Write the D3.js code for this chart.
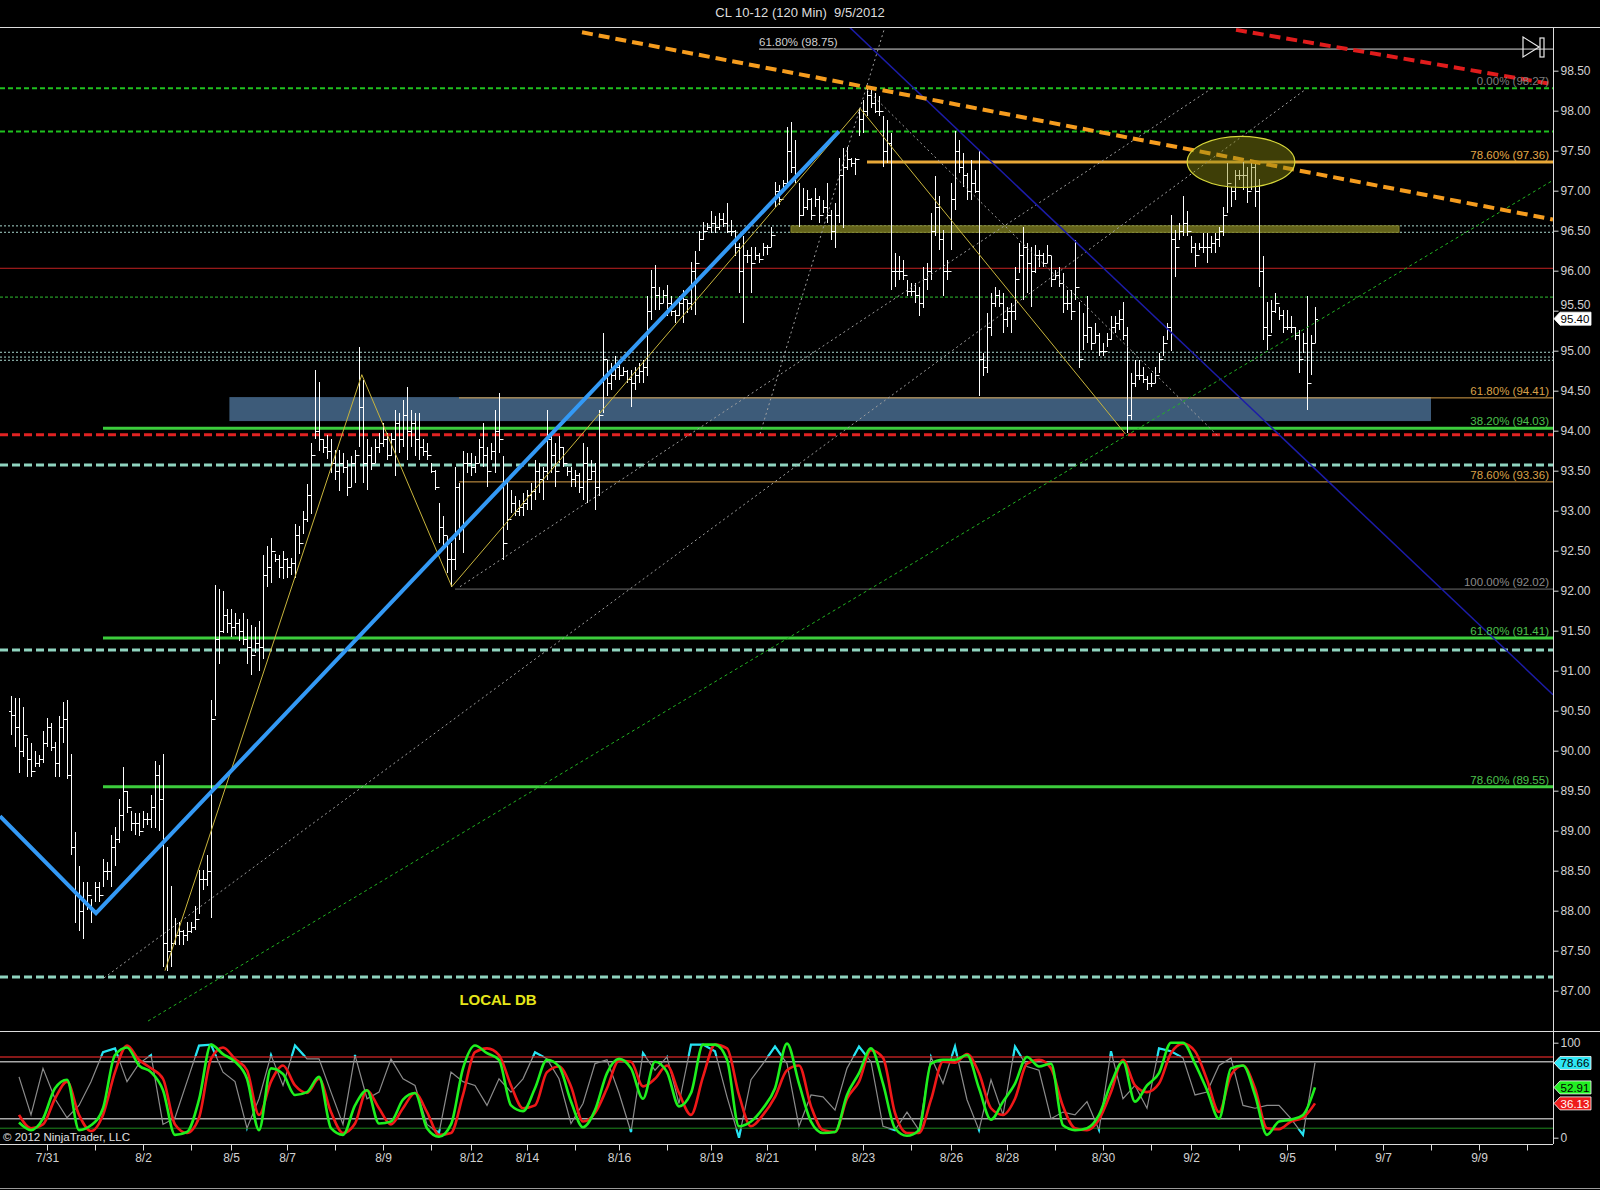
<!DOCTYPE html>
<html>
<head>
<meta charset="utf-8">
<title>CL 10-12 (120 Min) 9/5/2012</title>
<style>
body { margin: 0; background: #000; }
svg { display: block; font-family: "Liberation Sans", Arial, sans-serif; }
</style>
</head>
<body>
<svg id="chart" width="1600" height="1190"></svg>
<script src="https://d3js.org/d3.v7.min.js"></script>
<script>
// 120 min bars, index 0 = first bar on screen (7/30 evening)
var barHigh = [
  90.68, 90.66, 90.66, 90.55, 90.16, 90.10, 89.99, 89.95, 90.24, 90.41,
  90.34, 90.11, 90.43, 90.61, 90.63, 89.96, 88.98, 88.56, 88.36, 88.36,
  88.14, 88.36, 88.36, 88.65, 88.61, 88.95, 89.05, 89.40, 89.79, 89.50,
  89.25, 89.22, 89.22, 89.25, 89.22, 89.45, 89.87, 89.82, 89.96, 88.80,
  88.31, 87.91, 87.86, 87.76, 87.86, 87.86, 88.06, 88.51, 88.51, 88.70,
  90.63, 92.07, 92.02, 91.99, 91.77, 91.77, 91.72, 91.65, 91.72, 91.65,
  91.57, 91.55, 91.62, 92.44, 92.56, 92.66, 92.46, 92.44, 92.49, 92.41,
  92.41, 92.83, 92.81, 93.00, 93.33, 93.84, 94.76, 94.61, 93.89, 93.94,
  93.89, 93.76, 93.76, 93.72, 93.63, 93.68, 93.76, 95.05, 94.63, 93.89,
  93.80, 93.89, 93.97, 94.09, 93.97, 93.97, 94.26, 94.22, 94.38, 94.55,
  94.26, 94.22, 94.22, 93.89, 93.84, 93.59, 93.51, 93.09, 92.93, 92.68,
  92.59, 93.55, 93.34, 93.74, 93.72, 93.72, 93.68, 93.89, 94.09, 93.80,
  93.84, 94.26, 94.47, 93.68, 93.38, 93.26, 93.18, 93.13, 93.22, 93.26,
  93.34, 93.63, 93.59, 93.55, 94.26, 93.93, 93.84, 93.93, 93.80, 93.55,
  93.55, 93.51, 93.47, 93.84, 93.80, 93.63, 93.59, 94.26, 95.22, 94.88,
  94.84, 94.93, 94.84, 94.80, 94.76, 94.76, 94.80, 94.84, 94.88, 95.68,
  96.01, 96.07, 95.80, 95.76, 95.82, 95.68, 95.51, 95.68, 95.76, 95.63,
  96.11, 96.24, 96.49, 96.61, 96.59, 96.74, 96.68, 96.72, 96.72, 96.84,
  96.63, 96.51, 96.34, 96.43, 96.26, 96.30, 96.30, 96.22, 96.34, 96.32,
  96.55, 97.11, 97.07, 97.13, 97.80, 97.86, 97.63, 97.09, 97.03, 97.01,
  96.91, 97.03, 96.93, 96.88, 97.09, 96.76, 96.84, 97.41, 97.53, 97.55,
  97.41, 97.41, 98.03, 98.13, 98.28, 98.26, 98.22, 98.18, 97.93, 97.88,
  97.72, 96.22, 96.18, 96.13, 95.88, 95.84, 95.84, 95.80, 96.05, 96.09,
  96.72, 97.18, 96.93, 96.51, 96.13, 97.09, 97.74, 97.63, 97.47, 97.22,
  97.38, 97.26, 97.51, 94.97, 95.47, 95.72, 95.80, 95.76, 95.72, 95.55,
  95.59, 96.05, 96.34, 96.55, 96.34, 96.30, 96.32, 96.26, 96.22, 96.32,
  96.18, 96.01, 96.05, 95.97, 95.76, 95.76, 96.38, 95.61, 95.47, 95.68,
  95.30, 95.34, 95.22, 95.09, 95.22, 95.43, 95.43, 95.51, 95.61, 95.30,
  94.72, 94.88, 94.88, 94.80, 94.68, 94.72, 94.80, 94.97, 95.18, 95.34,
  96.70, 96.51, 96.59, 96.93, 96.74, 96.43, 96.34, 96.34, 96.47, 96.47,
  96.43, 96.47, 96.55, 96.80, 97.34, 97.05, 97.26, 97.26, 97.36, 97.30,
  97.34, 97.34, 97.15, 96.18, 95.61, 95.63, 95.72, 95.55, 95.51, 95.51,
  95.43, 95.30, 95.26, 95.22, 95.68, 95.20, 95.55
];
var barLow = [
  90.19, 90.04, 89.72, 89.92, 89.67, 89.67, 89.79, 89.80, 89.84, 90.04,
  89.99, 89.67, 89.67, 90.09, 89.64, 88.70, 87.84, 87.74, 87.64, 88.01,
  87.84, 88.11, 88.11, 88.29, 88.38, 88.29, 88.56, 88.85, 89.00, 89.22,
  89.00, 88.95, 88.93, 89.03, 89.07, 89.03, 89.03, 89.00, 87.30, 87.25,
  87.30, 87.57, 87.57, 87.57, 87.62, 87.72, 87.76, 87.96, 88.26, 88.31,
  87.91, 90.43, 91.08, 91.47, 91.47, 91.42, 91.45, 91.37, 91.32, 91.08,
  90.95, 91.22, 91.00, 91.15, 92.04, 92.09, 92.36, 92.16, 92.14, 92.16,
  92.19, 92.16, 92.46, 92.71, 92.86, 92.96, 93.89, 93.75, 93.72, 93.65,
  93.47, 93.38, 93.24, 93.47, 93.18, 93.30, 93.34, 93.80, 93.34, 93.26,
  93.51, 93.59, 93.72, 93.80, 93.63, 93.68, 93.43, 93.72, 93.80, 93.63,
  93.80, 93.68, 93.63, 93.68, 93.63, 93.47, 93.26, 92.59, 92.55, 92.22,
  92.05, 92.26, 92.63, 92.47, 93.47, 93.43, 93.47, 93.59, 93.55, 93.30,
  93.63, 93.47, 93.72, 92.38, 92.76, 92.97, 92.93, 92.93, 92.93, 93.01,
  93.01, 93.13, 93.22, 93.13, 93.38, 93.47, 93.30, 93.59, 93.55, 93.43,
  93.30, 93.30, 93.22, 93.13, 93.09, 93.38, 93.01, 93.18, 94.22, 94.43,
  94.51, 94.63, 94.63, 94.68, 94.59, 94.30, 94.51, 94.59, 94.59, 94.68,
  95.38, 95.51, 95.51, 95.59, 95.43, 95.43, 95.34, 95.43, 95.34, 95.47,
  95.51, 95.45, 96.24, 96.38, 96.51, 96.47, 96.47, 96.51, 96.55, 96.47,
  96.43, 96.18, 95.72, 95.34, 96.09, 95.72, 96.13, 96.09, 96.18, 96.20,
  96.30, 96.80, 96.82, 96.99, 97.09, 97.22, 97.09, 96.55, 96.68, 96.76,
  96.63, 96.80, 96.59, 96.72, 96.59, 96.38, 96.28, 96.59, 96.53, 97.26,
  97.30, 97.20, 97.68, 97.72, 97.93, 98.03, 97.97, 97.93, 97.30, 97.34,
  95.76, 95.80, 95.88, 95.88, 95.68, 95.68, 95.59, 95.43, 95.53, 95.76,
  95.88, 96.43, 96.26, 95.68, 95.88, 96.26, 96.76, 97.22, 97.05, 96.88,
  96.88, 96.97, 94.43, 94.68, 94.72, 95.18, 95.55, 95.55, 95.22, 95.30,
  95.22, 95.38, 95.97, 95.63, 95.72, 95.55, 95.97, 96.05, 96.05, 96.09,
  95.80, 95.88, 95.80, 95.47, 95.51, 95.38, 95.63, 94.78, 95.01, 95.09,
  95.01, 95.09, 94.93, 94.93, 95.05, 95.13, 95.22, 95.26, 95.13, 93.97,
  94.13, 94.55, 94.63, 94.59, 94.51, 94.55, 94.59, 94.72, 94.93, 95.13,
  95.00, 95.92, 96.38, 96.43, 96.43, 96.22, 96.05, 96.26, 96.22, 96.09,
  96.22, 96.22, 96.30, 96.43, 96.72, 96.80, 96.88, 97.13, 97.01, 96.84,
  97.01, 96.80, 95.80, 95.13, 95.01, 95.22, 95.47, 95.38, 95.22, 95.26,
  95.22, 95.13, 94.72, 94.97, 94.26, 94.70, 95.10
];
var barClose = [
  90.45, 90.30, 90.00, 90.20, 89.90, 89.75, 89.85, 89.90, 90.10, 90.30,
  90.05, 89.85, 90.30, 90.40, 89.70, 88.80, 88.20, 88.00, 88.10, 88.20,
  88.00, 88.30, 88.20, 88.50, 88.50, 88.80, 88.90, 89.20, 89.50, 89.30,
  89.10, 89.10, 89.00, 89.15, 89.15, 89.30, 89.70, 89.40, 87.60, 87.50,
  87.60, 87.70, 87.75, 87.70, 87.75, 87.80, 87.90, 88.40, 88.40, 88.50,
  90.40, 91.40, 91.50, 91.70, 91.60, 91.55, 91.60, 91.50, 91.40, 91.30,
  91.20, 91.35, 91.30, 92.20, 92.30, 92.50, 92.40, 92.30, 92.40, 92.30,
  92.35, 92.70, 92.60, 92.90, 93.20, 93.70, 94.00, 93.90, 93.80, 93.75,
  93.60, 93.50, 93.60, 93.55, 93.30, 93.60, 93.70, 94.30, 93.60, 93.70,
  93.60, 93.80, 93.85, 93.90, 93.70, 93.90, 94.10, 93.90, 94.20, 94.00,
  94.10, 93.90, 93.80, 93.75, 93.70, 93.50, 93.30, 92.80, 92.70, 92.40,
  92.40, 93.30, 92.80, 93.60, 93.60, 93.55, 93.60, 93.80, 93.70, 93.50,
  93.75, 94.00, 93.90, 92.60, 92.90, 93.10, 93.00, 93.05, 93.10, 93.20,
  93.25, 93.50, 93.40, 93.50, 93.90, 93.70, 93.50, 93.80, 93.60, 93.50,
  93.40, 93.45, 93.30, 93.60, 93.40, 93.50, 93.30, 94.20, 94.90, 94.60,
  94.70, 94.80, 94.70, 94.75, 94.65, 94.60, 94.70, 94.75, 94.80, 95.50,
  95.80, 95.70, 95.60, 95.70, 95.60, 95.50, 95.45, 95.60, 95.65, 95.60,
  96.00, 96.10, 96.40, 96.50, 96.55, 96.60, 96.55, 96.65, 96.60, 96.50,
  96.50, 96.30, 96.00, 96.20, 96.20, 96.10, 96.20, 96.15, 96.30, 96.30,
  96.45, 97.00, 96.90, 97.10, 97.50, 97.30, 97.20, 96.70, 96.80, 96.90,
  96.70, 96.90, 96.70, 96.80, 96.70, 96.50, 96.70, 97.20, 97.30, 97.40,
  97.35, 97.40, 97.90, 98.00, 98.20, 98.10, 98.00, 98.00, 97.50, 97.60,
  96.00, 96.00, 96.00, 95.95, 95.75, 95.75, 95.70, 95.60, 95.90, 96.00,
  96.50, 96.80, 96.40, 96.00, 96.00, 96.90, 97.50, 97.30, 97.20, 97.00,
  97.10, 97.00, 94.90, 94.80, 95.30, 95.60, 95.70, 95.60, 95.40, 95.50,
  95.50, 95.90, 96.20, 96.30, 96.10, 96.00, 96.20, 96.20, 96.10, 96.20,
  95.90, 95.95, 95.85, 95.60, 95.60, 95.50, 95.80, 94.90, 95.20, 95.30,
  95.10, 95.20, 95.00, 95.00, 95.15, 95.30, 95.35, 95.40, 95.20, 94.20,
  94.60, 94.70, 94.70, 94.65, 94.60, 94.60, 94.70, 94.90, 95.10, 95.30,
  96.40, 96.30, 96.50, 96.60, 96.50, 96.30, 96.20, 96.30, 96.30, 96.30,
  96.35, 96.40, 96.50, 96.70, 97.10, 97.00, 97.20, 97.20, 97.20, 97.00,
  97.30, 97.00, 96.00, 95.30, 95.20, 95.50, 95.60, 95.45, 95.30, 95.30,
  95.30, 95.20, 94.90, 95.10, 94.60, 95.10, 95.40
];
var firstOpen = 90.50;

// stochastics, read every 3rd bar starting at bar 2
var oscFirstBar = 2, oscStep = 3;
var stochK = [
  16, 8, 20, 52, 61, 8, 13, 31, 87, 95,
  76, 69, 50, 3, 6, 40, 98, 88, 80, 62,
  8, 73, 67, 45, 48, 64, 10, 3, 34, 50,
  15, 17, 40, 47, 10, 1, 14, 73, 97, 89,
  82, 34, 28, 52, 82, 75, 38, 11, 29, 68,
  83, 73, 41, 80, 69, 33, 47, 98, 98, 82,
  12, 17, 31, 52, 99, 57, 17, 5, 6, 45,
  68, 94, 57, 10, 2, 8, 78, 82, 82, 87,
  52, 19, 38, 57, 85, 75, 78, 13, 8, 10,
  24, 57, 80, 38, 55, 68, 100, 100, 78, 50,
  20, 73, 76, 45, 3, 17, 19, 24, 52.91
];
var stochD = [
  24, 10, 14, 41, 59, 24, 7, 24, 69, 97,
  82, 73, 62, 14, 5, 21, 83, 95, 83, 71,
  24, 59, 76, 55, 47, 62, 27, 5, 15, 50,
  31, 14, 31, 47, 27, 3, 5, 45, 90, 94,
  87, 55, 31, 34, 69, 75, 54, 17, 26, 52,
  81, 80, 54, 62, 76, 47, 24, 64, 98, 94,
  45, 12, 24, 43, 71, 76, 33, 8, 6, 41,
  59, 92, 84, 26, 5, 5, 40, 80, 79, 88,
  68, 31, 24, 41, 78, 82, 73, 33, 10, 8,
  19, 48, 82, 55, 48, 57, 89, 99, 91, 61,
  27, 66, 76, 52, 10, 9, 17, 21, 36.13
];
var stochRaw = [
  64, 24, 73, 41, 21, 34, 59, 90, 94, 59,
  78, 87, 14, 21, 59, 97, 98, 69, 59, 10,
  41, 87, 55, 97, 83, 83, 48, 14, 87, 41,
  48, 83, 62, 55, 14, 5, 69, 59, 55, 34,
  62, 48, 62, 90, 83, 62, 15, 36, 78, 82,
  47, 6, 89, 71, 85, 36, 98, 98, 91, 43,
  0, 61, 78, 96, 78, 12, 45, 43, 29, 73,
  96, 80, 12, 8, 27, 8, 85, 57, 96, 40,
  8, 61, 24, 96, 75, 71, 20, 27, 24, 38,
  8, 91, 41, 55, 31, 94, 91, 84, 45, 48,
  76, 84, 34, 31, 34, 34, 20, 3, 78.66
];

// day ticks (bar index of session start) and their labels
var dayTicks = [9, 21, 33, 45, 55, 69, 81, 93, 105, 115, 129, 141, 152, 164, 175, 189,
  201, 213, 225, 235, 249, 261, 273, 285, 295, 307, 319, 331, 343, 355, 367, 379];
var dayLabels = ["7/31", "", "8/2", "", "8/5", "8/7", "", "8/9", "", "8/12", "8/14", "", "8/16", "", "8/19", "8/21",
  "", "8/23", "", "8/26", "8/28", "", "8/30", "", "9/2", "", "9/5", "", "9/7", "", "9/9", ""];
var priceTicks = [87, 87.5, 88, 88.5, 89, 89.5, 90, 90.5, 91, 91.5, 92, 92.5,
  93, 93.5, 94, 94.5, 95, 95.5, 96, 96.5, 97, 97.5, 98, 98.5];
var oscTicks = [0, 100];
var oscLevels = [85, 80, 20, 10];

// drawing objects, in price and bar units
var greenDashLevels = [98.28, 97.74];
var tealDotLevels = [96.56, 96.48, 94.98, 94.92, 94.88];
var tealDashLevels = [93.57, 91.26, 87.17];
var redThinLevel = 96.03;
var greenThinLevel = 95.67;
var redDashLevel = 93.95;
var fibPrices = [98.28, 97.36, 94.41, 94.03, 93.36, 92.02, 91.41, 89.55];
var fibTexts = ["0.00% (98.27)", "78.60% (97.36)", "61.80% (94.41)", "38.20% (94.03)",
  "78.60% (93.36)", "100.00% (92.02)", "61.80% (91.41)", "78.60% (89.55)"];
var fibStartBars = [null, 214, 112, 23, 112, 111, 23, 23];
var topFibPrice = 98.77, topFibBar = 187, topFibText = "61.80% (98.75)";
var zoneBars = [54.6, 355], zonePrices = [94.12, 94.42];
var bandBars = [195, 347], bandPrices = [96.48, 96.56];
var ellipseCenter = [307.5, 97.36], ellipseRadius = [13.45, 0.32];
var orangeTrend = [[142.75, 98.98], [385.5, 96.64]];
var redTrend = [[306.25, 99.01], [385.5, 98.33]];
var navyLine = [[209.5, 99.05], [385.5, 90.70]];
var blueZig = [[-2.75, 89.18], [21.25, 87.97], [207, 97.74]];
var yellowZig = [[38.5, 87.25], [87.7, 94.70], [110.2, 92.05], [212.25, 98.03], [278.6, 93.96]];
var greenRay = [[34.25, 86.62], [385.5, 97.13]];
var greyLines = [
  [[23.25, 87.16], [323.75, 98.27]],
  [[112.25, 92.05], [300.25, 98.28]],
  [[187.25, 93.96], [218.5, 99.05]],
  [[214, 98.26], [302, 93.92]]
];
var lastPrice = 95.40;

var plotR = 1553, mainTop = 27, mainBot = 1031, oscBot = 1144;

var x = d3.scaleLinear().domain([0, 1]).range([11, 15]);   // 4 px per bar
var y = d3.scaleLinear().domain([86.496, 99.046]).range([mainBot, mainTop]);
var yo = d3.scaleLinear().domain([0, 100]).range([1137.7, 1042.7]);

var svg = d3.select("#chart");
svg.append("rect").attr("width", 1600).attr("height", 1190).attr("fill", "#000");

var defs = svg.append("defs");
defs.append("clipPath").attr("id", "mainClip").append("rect")
  .attr("x", 0).attr("y", mainTop).attr("width", plotR).attr("height", mainBot - mainTop);
defs.append("clipPath").attr("id", "oscClip").append("rect")
  .attr("x", 0).attr("y", mainBot).attr("width", plotR).attr("height", oscBot - mainBot);
var ext = defs.append("clipPath").attr("id", "extClip");
ext.append("rect").attr("x", 0).attr("y", mainBot).attr("width", plotR).attr("height", yo(86) - mainBot);
ext.append("rect").attr("x", 0).attr("y", yo(9)).attr("width", plotR).attr("height", oscBot - yo(9));

var main = svg.append("g").attr("clip-path", "url(#mainClip)");

function hline(price, fromBar, color, width, dash) {
  main.append("line")
    .attr("x1", fromBar == null ? 0 : x(fromBar)).attr("x2", plotR)
    .attr("y1", y(price)).attr("y2", y(price))
    .attr("stroke", color).attr("stroke-width", width)
    .attr("stroke-dasharray", dash || null);
}

// zones
main.append("rect")
  .attr("x", x(zoneBars[0])).attr("width", x(zoneBars[1]) - x(zoneBars[0]))
  .attr("y", y(zonePrices[1])).attr("height", y(zonePrices[0]) - y(zonePrices[1]))
  .attr("fill", "#3d5b79");

// horizontal levels
tealDotLevels.forEach(function(p) { hline(p, null, "#a9d9cf", 1, "2,2"); });
hline(redThinLevel, null, "#c22222", 1);
hline(greenThinLevel, null, "#2fbf2f", 1, "3,2");
greenDashLevels.forEach(function(p) { hline(p, null, "#1fc01f", 2, "5,3"); });
tealDashLevels.forEach(function(p) { hline(p, null, "#8fd4bf", 3, "8,4"); });
hline(redDashLevel, null, "#e02222", 3, "8,4");
var fibLineColors = [null, "#e8a838", "#d9a048", "#3ccc3c", "#d9a048", "#6e6e6e", "#3ccc3c", "#3ccc3c"];
var fibLineWidths = [0, 3, 1, 3, 1, 1, 3, 3];
fibPrices.forEach(function(p, k) {
  if (fibLineColors[k]) hline(p, fibStartBars[k], fibLineColors[k], fibLineWidths[k]);
});
hline(topFibPrice, topFibBar, "#d8d8d8", 1);

main.append("rect")
  .attr("x", x(bandBars[0])).attr("width", x(bandBars[1]) - x(bandBars[0]))
  .attr("y", y(bandPrices[1])).attr("height", y(bandPrices[0]) - y(bandPrices[1]))
  .attr("fill", "#62621a").attr("stroke", "#85852a").attr("stroke-width", 1);

// OHLC bars
var bars = barHigh.map(function(h, i) {
  return {i: i, h: h, l: barLow[i], c: barClose[i], o: i ? barClose[i - 1] : firstOpen};
});
main.append("g")
  .attr("stroke", "#fff").attr("stroke-width", 1).attr("fill", "none")
  .selectAll("path").data(bars).enter().append("path")
  .attr("d", function(d) {
    var cx = Math.round(x(d.i)) + 0.5;
    var yh = Math.round(y(d.h)), yl = Math.round(y(d.l));
    var yop = Math.round(y(d.o)) + 0.5, ycl = Math.round(y(d.c)) + 0.5;
    if (yl - yh < 2) yl = yh + 2;
    return "M" + cx + "," + yh + "V" + yl +
      "M" + (cx - 2.5) + "," + yop + "H" + cx +
      "M" + cx + "," + ycl + "H" + (cx + 2.5);
  });

// drawing tools
var pl = d3.line().x(function(d) { return x(d[0]); }).y(function(d) { return y(d[1]); });
function poly(pts, color, width, dash) {
  main.append("path").attr("d", pl(pts)).attr("fill", "none")
    .attr("stroke", color).attr("stroke-width", width)
    .attr("stroke-dasharray", dash || null);
}
greyLines.forEach(function(l) { poly(l, "#a0a0a0", 1, "2,3"); });
poly(greenRay, "#22b322", 1, "3,3");
poly(navyLine, "#1c1ca8", 1.5);
poly(yellowZig, "#c9b53c", 1);
poly(blueZig, "#3399f5", 4);
poly(orangeTrend, "#f59c1e", 4, "11,6");
poly(redTrend, "#e01c1c", 4, "11,6");

main.append("ellipse")
  .attr("cx", x(ellipseCenter[0])).attr("cy", y(ellipseCenter[1]))
  .attr("rx", x(ellipseRadius[0]) - x(0)).attr("ry", y(0) - y(ellipseRadius[1]))
  .attr("fill", "#8a8a10").attr("fill-opacity", 0.45)
  .attr("stroke", "#d6d63a").attr("stroke-width", 1.2);

// level labels
var fibTextColors = ["#7d7d7d", "#e3a848", "#d9a048", "#4cc04c", "#d9a048", "#8a8a8a", "#4cc04c", "#4cc04c"];
fibPrices.forEach(function(p, k) {
  svg.append("text").attr("x", 1549).attr("y", y(p) - 3)
    .attr("text-anchor", "end").attr("font-size", 11.5)
    .attr("fill", fibTextColors[k]).text(fibTexts[k]);
});
svg.append("text").attr("x", x(topFibBar)).attr("y", y(topFibPrice) - 3)
  .attr("font-size", 11.5).attr("fill", "#cfcfcf").text(topFibText);

// scroll-to-end marker
svg.append("path").attr("d", "M1523,37L1539,47L1523,57Z")
  .attr("fill", "none").attr("stroke", "#e8e8e8").attr("stroke-width", 1.2);
svg.append("rect").attr("x", 1540).attr("y", 38).attr("width", 4).attr("height", 19)
  .attr("fill", "none").attr("stroke", "#e8e8e8").attr("stroke-width", 1.2);

svg.append("text").attr("x", 498).attr("y", 1005).attr("text-anchor", "middle")
  .attr("font-size", 15).attr("font-weight", "bold").attr("fill", "#e6e619").text("LOCAL DB");

// oscillator panel
var osc = svg.append("g").attr("clip-path", "url(#oscClip)");
var oscColors = ["#b52020", "#a8a8a8", "#a8a8a8", "#1f8a1f"];
oscLevels.forEach(function(v, k) {
  osc.append("line").attr("x1", 0).attr("x2", plotR).attr("y1", yo(v)).attr("y2", yo(v))
    .attr("stroke", oscColors[k]).attr("stroke-width", k === 3 ? 1 : 1.5);
});
function ol(arr, curve) {
  return d3.line()
    .x(function(d, k) { return x(oscFirstBar + k * oscStep); })
    .y(function(d) { return yo(d); })
    .curve(curve || d3.curveLinear)(arr);
}
osc.append("path").attr("d", ol(stochRaw)).attr("fill", "none")
  .attr("stroke", "#8c8c8c").attr("stroke-width", 1.2);
osc.append("g").attr("clip-path", "url(#extClip)").append("path")
  .attr("d", ol(stochRaw)).attr("fill", "none")
  .attr("stroke", "#25e3f2").attr("stroke-width", 2.2);
osc.append("path").attr("d", ol(stochD, d3.curveMonotoneX)).attr("fill", "none")
  .attr("stroke", "#f01818").attr("stroke-width", 2.6);
osc.append("path").attr("d", ol(stochK, d3.curveMonotoneX)).attr("fill", "none")
  .attr("stroke", "#1ef01e").attr("stroke-width", 2.6);

svg.append("text").attr("x", 3).attr("y", 1141).attr("font-size", 11.5)
  .attr("fill", "#e0e0e0").text("\u00a9 2012 NinjaTrader, LLC");

// frame
var frame = "#dcdcdc";
svg.append("line").attr("x1", 0).attr("x2", 1600).attr("y1", mainTop + 0.5).attr("y2", mainTop + 0.5).attr("stroke", frame);
svg.append("line").attr("x1", 0).attr("x2", 1600).attr("y1", mainBot + 0.5).attr("y2", mainBot + 0.5).attr("stroke", frame);
svg.append("line").attr("x1", 0).attr("x2", plotR).attr("y1", oscBot + 0.5).attr("y2", oscBot + 0.5).attr("stroke", frame);
svg.append("line").attr("x1", plotR + 0.5).attr("x2", plotR + 0.5).attr("y1", mainTop).attr("y2", oscBot).attr("stroke", frame);
svg.append("line").attr("x1", 0).attr("x2", 1600).attr("y1", 1188.5).attr("y2", 1188.5).attr("stroke", "#9a9a9a");

function styleAxis(g) {
  g.select(".domain").remove();
  g.selectAll(".tick line").attr("stroke", frame);
  g.selectAll(".tick text").attr("fill", "#d2d2d2").attr("font-size", 12)
    .attr("font-family", "Liberation Sans, Arial, sans-serif");
}
var yAxisG = svg.append("g").attr("transform", "translate(" + (plotR + 0.5) + ",0)")
  .call(d3.axisRight(y).tickValues(priceTicks).tickSize(5).tickPadding(2).tickFormat(d3.format(".2f")))
  .call(styleAxis);
svg.append("g").attr("transform", "translate(" + (plotR + 0.5) + ",0)")
  .call(d3.axisRight(yo).tickValues(oscTicks).tickSize(5).tickPadding(2))
  .call(styleAxis);
svg.append("g").attr("transform", "translate(0," + (oscBot + 0.5) + ")")
  .call(d3.axisBottom(x).tickValues(dayTicks).tickSize(6).tickPadding(3)
    .tickFormat(function(d, k) { return dayLabels[k]; }))
  .call(styleAxis);

// the price tag sits over the 95.50 label, as in the platform: push that label up a little
yAxisG.selectAll(".tick").filter(function(d) { return d === 95.5; })
  .select("text").attr("dy", "-0.15em");

// value tags
function tag(yPos, label, fill, textFill) {
  svg.append("path")
    .attr("d", "M1554," + yPos + "L1560," + (yPos - 6.5) + "H1591V" + (yPos + 6.5) + "H1560Z")
    .attr("fill", fill).attr("stroke", "#ffffff").attr("stroke-width", 0.8);
  svg.append("text").attr("x", 1575).attr("y", yPos + 4.2).attr("text-anchor", "middle")
    .attr("font-size", 11.5).attr("fill", textFill).text(label);
}
tag(y(lastPrice), d3.format(".2f")(lastPrice), "#ffffff", "#000");
tag(yo(stochRaw[stochRaw.length - 1]), d3.format(".2f")(stochRaw[stochRaw.length - 1]), "#2ee6f5", "#000");
tag(yo(stochK[stochK.length - 1]), d3.format(".2f")(stochK[stochK.length - 1]), "#22ee22", "#000");
tag(yo(stochD[stochD.length - 1]), d3.format(".2f")(stochD[stochD.length - 1]), "#ee1c1c", "#fff");

svg.append("text").attr("x", 800).attr("y", 17).attr("text-anchor", "middle")
  .attr("font-size", 13).attr("fill", "#dedede").style("white-space", "pre")
  .text("CL 10-12 (120 Min)  9/5/2012");
</script>
</body>
</html>
